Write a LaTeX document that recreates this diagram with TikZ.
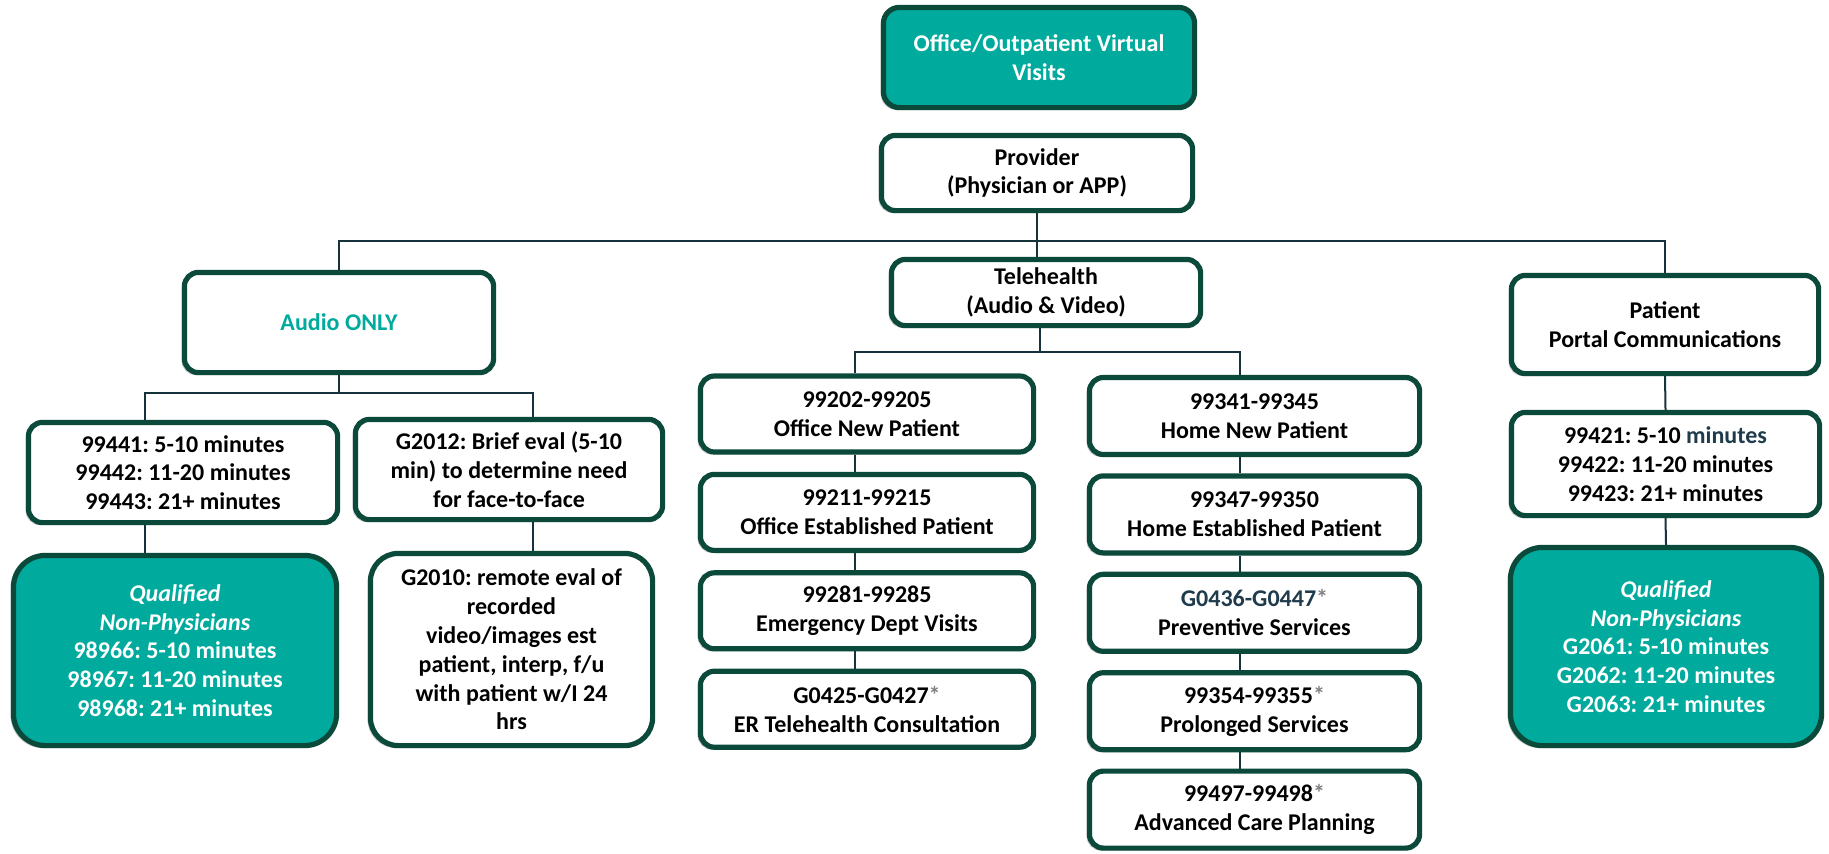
\documentclass[tikz,border=0pt]{standalone}
\usepackage{fontspec}
\setmainfont{Carlito}
\usepackage{tikz}
\usetikzlibrary{shapes.geometric, arrows, backgrounds, shadows}
\definecolor{vvteal}{HTML}{00AA9D}
\definecolor{vvedge}{HTML}{0B4A3A}
\definecolor{vvline}{HTML}{16323C}
\definecolor{vvslate}{HTML}{1F3B4C}
\newcommand{\boxfont}{\fontsize{12pt}{14.4pt}\selectfont\bfseries\frenchspacing}
\newcommand{\gstar}{\textcolor{gray}{*}}
\tikzstyle{boxshadow} = [drop shadow={shadow xshift=-1.4pt, shadow yshift=-1.2pt, opacity=0.22, fill=black}]
\tikzstyle{header}    = [rectangle, rounded corners=8pt, draw=vvedge, line width=2.6pt, fill=vvteal, text=white, align=center, font=\boxfont, inner sep=2pt, boxshadow]
\tikzstyle{process}   = [rectangle, rounded corners=7pt, draw=vvedge, line width=2.6pt, fill=white, text=black, align=center, font=\boxfont, inner sep=2pt, boxshadow]
\tikzstyle{qualified} = [process, rounded corners=16pt, fill=vvteal, text=white]
\tikzstyle{officebox} = [process, minimum width=166.6pt, minimum height=38pt]
\tikzstyle{homebox}   = [process, minimum width=165.1pt, minimum height=38.5pt]
\tikzstyle{connector} = [line width=1pt, draw=vvline]

\begin{document}
\begin{tikzpicture}[x=0.5pt, y=-0.5pt, node distance=49.2pt]
    \useasboundingbox (0,0) rectangle (1829,853);

    % Nodes
    %% Top of the tree
    \node (virtual)    [header, minimum width=155.6pt, minimum height=50.1pt]  at (1039,57.5) {Office/Outpatient Virtual\\Visits};
    \node (provider)   [process, minimum width=155.6pt, minimum height=37.6pt] at (1037,173)  {Provider\\(Physician or APP)};
    %% Second level
    \node (audio)      [process, minimum width=154.6pt, minimum height=50.1pt, text=vvteal] at (339,322.5) {Audio ONLY};
    \node (telehealth) [process, minimum width=154.6pt, minimum height=33.1pt] at (1046,292.5) {Telehealth\\(Audio \& Video)};
    \node (patient)    [process, minimum width=153.6pt, minimum height=49.1pt] at (1665,324.5) {Patient\\Portal Communications};
    %%% Audio only branch
    \node (c99441)     [process, minimum width=154.6pt, minimum height=50.1pt] at (183,472.5)  {99441: 5-10 minutes\\99442: 11-20 minutes\\99443: 21+ minutes};
    \node (g2012)      [process, minimum width=153.6pt, minimum height=50.1pt] at (509,469.5)  {G2012: Brief eval (5-10\\min) to determine need\\for face-to-face};
    \node (qualA)      [qualified, minimum width=161.6pt, minimum height=95.1pt] at (175,650.5) {\textit{Qualified}\\\textit{Non-Physicians}\\98966: 5-10 minutes\\98967: 11-20 minutes\\98968: 21+ minutes};
    \node (g2010)      [process, rounded corners=14pt, minimum width=141.1pt, minimum height=96.1pt] at (511.5,649.5) {G2010: remote eval of\\recorded\\video/images est\\patient, interp, f/u\\with patient w/I 24\\hrs};
    %%% Telehealth branch, office column
    \node (office1)    [officebox] at (867,414)                 {99202-99205\\Office New Patient};
    \node (office2)    [officebox, below of=office1]            {99211-99215\\Office Established Patient};
    \node (office3)    [officebox, below of=office2]            {99281-99285\\Emergency Dept Visits};
    \node (office4)    [officebox, below of=office3]            {G0425-G0427\gstar\\ER Telehealth Consultation};
    %%% Telehealth branch, home column
    \node (home1)      [homebox] at (1254.5,416)                {99341-99345\\Home New Patient};
    \node (home2)      [homebox, below of=home1]                {99347-99350\\Home Established Patient};
    \node (home3)      [homebox, below of=home2]                {\textcolor{vvslate}{G0436-G0447}\gstar\\Preventive Services};
    \node (home4)      [homebox, below of=home3]                {99354-99355\gstar\\Prolonged Services};
    \node (home5)      [homebox, below of=home4]                {99497-99498\gstar\\Advanced Care Planning};
    %%% Portal branch
    \node (portal421)  [process, minimum width=154.1pt, minimum height=51.6pt] at (1665.5,464) {99421: 5-10 \textcolor{vvslate}{minutes}\\99422: 11-20 minutes\\99423: 21+ minutes};
    \node (qualB)      [qualified, minimum width=155.6pt, minimum height=99.1pt] at (1666,646.5) {\textit{Qualified}\\\textit{Non-Physicians}\\G2061: 5-10 minutes\\G2062: 11-20 minutes\\G2063: 21+ minutes};

    % Connectors
    \coordinate (topbus)     at (1037,241);
    \coordinate (audiobus)   at (339,393);
    \coordinate (audioleft)  at (145,393);
    \coordinate (audioright) at (533,393);
    \coordinate (telebus)    at (1040,352);
    \coordinate (officedrop) at (855,352);
    \coordinate (homedrop)   at (1240,352);
    \begin{pgfonlayer}{background}
      \draw [connector] (provider.south)              -- (provider.south |- telehealth.north);
      \draw [connector] (audio.north)                 |- (topbus) -| (patient.north);
      \draw [connector] (audio.south)                 -- (audiobus);
      \draw [connector] (audioleft |- c99441.north)   |- (audioright) -- (audioright |- g2012.north);
      \draw [connector] (audioleft |- c99441.south)   -- (audioleft |- qualA.north);
      \draw [connector] (audioright |- g2012.south)   -- (audioright |- g2010.north);
      \draw [connector] (telebus |- telehealth.south) -- (telebus);
      \draw [connector] (officedrop |- office1.north) |- (homedrop) -- (homedrop |- home1.north);
      \draw [connector] (officedrop |- office1.south) -- (officedrop |- office2.north);
      \draw [connector] (officedrop |- office2.south) -- (officedrop |- office3.north);
      \draw [connector] (officedrop |- office3.south) -- (officedrop |- office4.north);
      \draw [connector] (homedrop |- home1.south)     -- (homedrop |- home2.north);
      \draw [connector] (homedrop |- home2.south)     -- (homedrop |- home3.north);
      \draw [connector] (homedrop |- home3.south)     -- (homedrop |- home4.north);
      \draw [connector] (homedrop |- home4.south)     -- (homedrop |- home5.north);
      \draw [connector] (patient.south)               -- (portal421.north);
      \draw [connector] (portal421.south)             -- (qualB.north);
    \end{pgfonlayer}
\end{tikzpicture}
\end{document}
